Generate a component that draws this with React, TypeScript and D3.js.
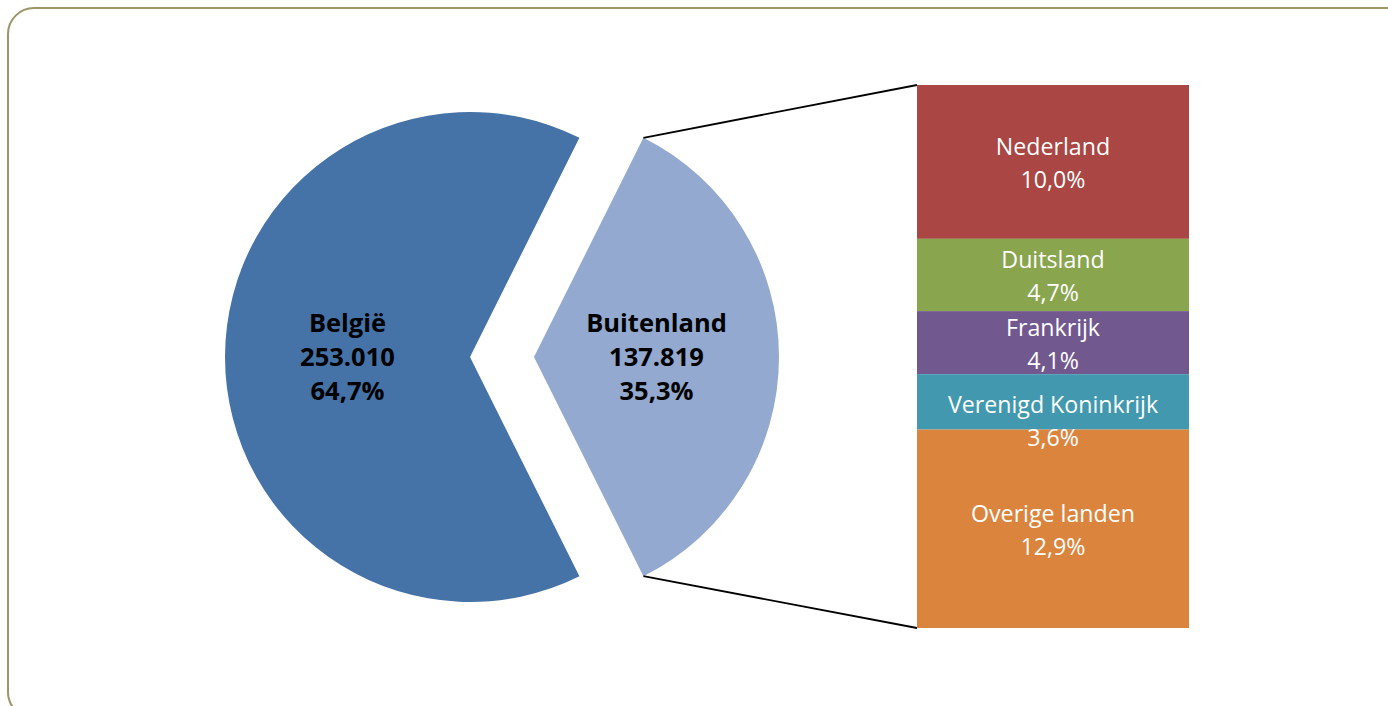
import React from "react";
import * as d3 from "d3";

// ---- data ----
const pieCategories = ["België", "Buitenland"];
const pieValues = [253010, 137819];

const barCategories = ["Nederland", "Duitsland", "Frankrijk", "Verenigd Koninkrijk", "Overige landen"];
const barPercents = [10.0, 4.7, 4.1, 3.6, 12.9];

const pieColors = ["#4572A7", "#93A9CF"];
const barColors = ["#AA4643", "#89A54E", "#71588F", "#4198AF", "#DB843D"];

const W = 1388;
const H = 706;

const nl = d3.formatLocale({ decimal: ",", thousands: ".", grouping: [3], currency: ["€", ""] });
const fmtInt = nl.format(",d");
const fmtPct = nl.format(".1f");

export default function App() {
  const total = d3.sum(pieValues);
  const fracB = pieValues[1] / total;
  const start = Math.PI / 2 + fracB * Math.PI;
  const pie = d3.pie<number>().sort(null).startAngle(start).endAngle(start + 2 * Math.PI);
  const arcsData = pie(pieValues);

  const R = 245;
  const cx = 470;
  const cy = 357;
  const explode = 64;
  const arcGen = d3.arc<d3.PieArcDatum<number>>().innerRadius(0).outerRadius(R);

  // bar
  const barX0 = 917;
  const barX1 = 1189;
  const barSum = d3.sum(barPercents);
  const y = d3.scaleLinear().domain([0, barSum]).range([85, 628]);
  const cum: number[] = [];
  barPercents.reduce((acc, v) => {
    cum.push(acc);
    return acc + v;
  }, 0);

  // Buitenland slice geometry
  const b = arcsData[1];
  const bcx = cx + explode;
  const bcy = cy;
  const pt = (a: number) => [bcx + R * Math.sin(a), bcy - R * Math.cos(a)];
  const pTop = pt(b.startAngle);
  const pBot = pt(b.endAngle);

  const labelNudge: Record<string, number> = { "Verenigd Koninkrijk": 18 };

  return (
    <svg width={W} height={H} style={{ position: "absolute", left: 0, top: 0 }}>
      <rect x={8} y={8} width={1404} height={710} rx={26} ry={26} fill="#fff" stroke="#9D9467" strokeWidth={2} />

      {arcsData.map((d, i) => {
        const ox = i === 1 ? explode : 0;
        const [lx, ly] = arcGen.centroid(d);
        const pct = (d.data / total) * 100;
        const tx = cx + ox + lx;
        const ty = cy + ly;
        const lines = [pieCategories[i], fmtInt(d.data), fmtPct(pct) + "%"];
        return (
          <g key={i}>
            <path d={arcGen(d) || ""} transform={`translate(${cx + ox},${cy})`} fill={pieColors[i]} />
            <text
              fontFamily="'Open Sans', sans-serif"
              fontWeight={700}
              fontSize={25.5}
              textAnchor="middle"
              fill="#000"
            >
              {lines.map((t, j) => (
                <tspan key={j} x={tx} y={ty - 25 + j * 34}>
                  {t}
                </tspan>
              ))}
            </text>
          </g>
        );
      })}

      <line x1={pTop[0]} y1={pTop[1]} x2={barX0} y2={y(0)} stroke="#000" strokeWidth={1.8} />
      <line x1={pBot[0]} y1={pBot[1]} x2={barX0} y2={y(barSum)} stroke="#000" strokeWidth={1.8} />

      {barPercents.map((v, i) => {
        const y0 = y(cum[i]);
        const y1 = y(cum[i] + v);
        return <rect key={i} x={barX0} y={y0} width={barX1 - barX0} height={y1 - y0} fill={barColors[i]} />;
      })}
      {barPercents.map((v, i) => {
        const y0 = y(cum[i]);
        const y1 = y(cum[i] + v);
        const mid = (y0 + y1) / 2 + (labelNudge[barCategories[i]] || 0);
        const tx = (barX0 + barX1) / 2;
        return (
          <text
            key={i}
            fontFamily="'Open Sans', sans-serif"
            fontSize={23.2}
            textAnchor="middle"
            fill="#fff"
          >
            <tspan x={tx} y={mid - 7}>
              {barCategories[i]}
            </tspan>
            <tspan x={tx} y={mid + 26}>
              {fmtPct(v) + "%"}
            </tspan>
          </text>
        );
      })}
    </svg>
  );
}
